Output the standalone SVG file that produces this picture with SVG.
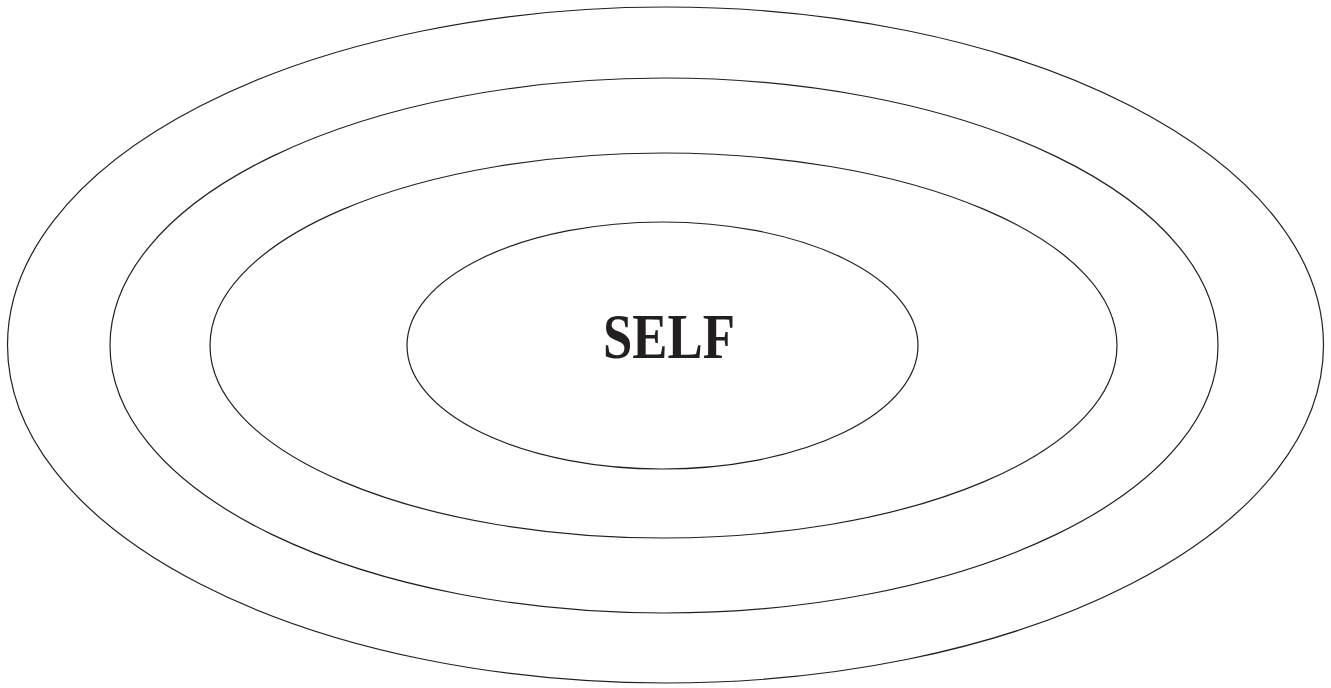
<svg xmlns="http://www.w3.org/2000/svg" width="1331" height="688" viewBox="0 0 1331 688">
<style>
.ring{fill:none;stroke:#231f20;stroke-width:1.2}
.lbl{font-family:"Liberation Serif","Times New Roman",serif;font-weight:bold;fill:#231f20}
</style>
<rect width="1331" height="688" fill="#fff"/>
<g id="ring4"><ellipse class="ring" cx="665.5" cy="345" rx="658" ry="338"/></g>
<g id="ring3"><ellipse class="ring" cx="664" cy="345.5" rx="554" ry="267.5"/></g>
<g id="ring2"><ellipse class="ring" cx="663.5" cy="345.5" rx="453.5" ry="192.5"/></g>
<g id="self"><ellipse class="ring" cx="662.5" cy="345.5" rx="255.5" ry="123.5"/>
<text class="lbl" x="669" y="358" font-size="64" text-anchor="middle" textLength="132" lengthAdjust="spacingAndGlyphs">SELF</text></g>
</svg>
